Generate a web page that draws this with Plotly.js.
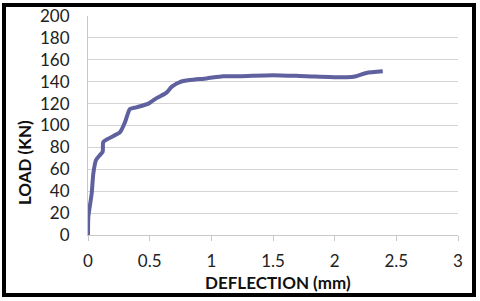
<!DOCTYPE html>
<html><head><meta charset="utf-8">
<script src="https://cdn.plot.ly/plotly-3.0.1.min.js"></script>
<style>
html,body{margin:0;padding:0;background:#fff;}
#wrap{position:relative;width:480px;height:301px;}
#chart{width:480px;height:301px;}
#frame{position:absolute;left:2px;top:3px;width:466px;height:286px;border:4px solid #000;pointer-events:none;}
</style></head>
<body><div id="wrap"><div id="chart"></div><div id="frame"></div></div>
<script>
var deflection = [0, 0.003, 0.03, 0.043, 0.065, 0.097, 0.119, 0.124, 0.165, 0.26, 0.30, 0.34, 0.39, 0.49, 0.556, 0.637, 0.68, 0.745, 0.826, 0.96, 1.095, 1.23, 1.50, 1.77, 2.095, 2.175, 2.257, 2.39];
var load = [0, 16.7, 38, 56, 68.5, 73, 76, 85, 88, 94, 103, 115, 116.6, 120, 125, 130, 135.5, 139.7, 141.5, 143, 145, 145, 146, 145, 144, 145, 148, 149.5];
var xTicks = [0, 0.5, 1, 1.5, 2, 2.5, 3];
var yTicks = [0, 20, 40, 60, 80, 100, 120, 140, 160, 180, 200];
var xTitle = 'DEFLECTION (mm)';
var yTitle = 'LOAD (KN)';

var font = 'Lato, Open Sans, sans-serif';
Plotly.newPlot('chart', [{
  x: deflection, y: load, type: 'scatter', mode: 'lines',
  line: {color: '#5f609e', width: 4, shape: 'spline', smoothing: 0.6}
}], {
  width: 480, height: 301,
  margin: {l: 88, r: 22, t: 16, b: 66},
  paper_bgcolor: '#fff', plot_bgcolor: '#fff',
  showlegend: false,
  font: {family: font, color: '#222', size: 17},
  xaxis: {range: [0, 3], tickvals: xTicks, ticktext: xTicks.map(String),
    showgrid: false, zeroline: false, showline: true, linecolor: '#c8c8c8', linewidth: 1,
    ticks: 'outside', ticklen: 5, tickcolor: '#c8c8c8', ticklabelstandoff: 6,
    tickfont: {size: 17, family: font, color: '#222'}},
  yaxis: {range: [0, 200], tickvals: yTicks, ticktext: yTicks.map(String),
    showgrid: true, gridcolor: '#d4d4d4', gridwidth: 1, zeroline: false,
    showline: true, linecolor: '#c8c8c8', linewidth: 1, ticks: '', ticklen: 0, ticklabelstandoff: 14,
    tickfont: {size: 17, family: font, color: '#222'}},
  annotations: [
    {text: '<b>' + xTitle + '</b>', xref: 'paper', yref: 'paper', x: 0.5125, y: -0.216,
     xanchor: 'center', yanchor: 'middle', showarrow: false, font: {size: 17, family: font, color: '#111'}},
    {text: '<b>' + yTitle + '</b>', xref: 'paper', yref: 'paper', x: -0.170, y: 0.329,
     xanchor: 'center', yanchor: 'middle', textangle: -90, showarrow: false, font: {size: 17, family: font, color: '#111'}}
  ]
}, {displayModeBar: false, staticPlot: true});
</script></body></html>
